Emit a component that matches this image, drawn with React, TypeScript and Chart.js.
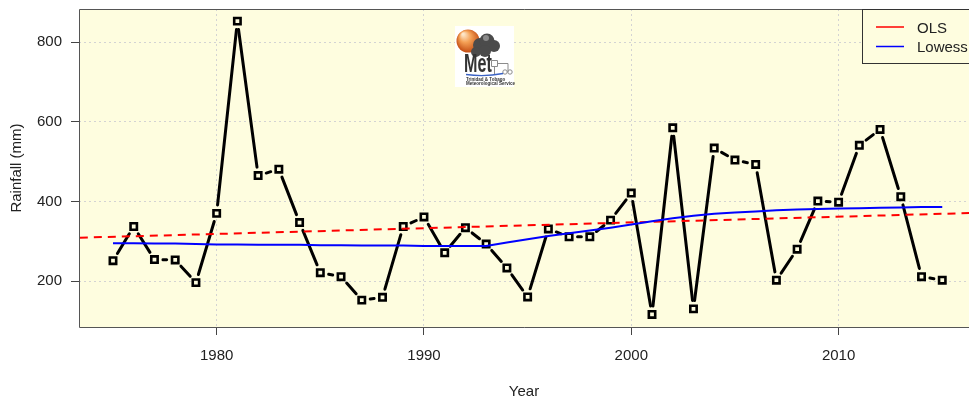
import React, { useEffect, useRef } from 'react';
import { Chart, registerables } from 'chart.js';

Chart.register(...registerables);

// ---- data ----
const years = [
  1975, 1976, 1977, 1978, 1979, 1980, 1981, 1982, 1983, 1984,
  1985, 1986, 1987, 1988, 1989, 1990, 1991, 1992, 1993, 1994,
  1995, 1996, 1997, 1998, 1999, 2000, 2001, 2002, 2003, 2004,
  2005, 2006, 2007, 2008, 2009, 2010, 2011, 2012, 2013, 2014, 2015,
];
const rainfall = [
  251, 337, 254, 253, 196, 370, 853, 465, 481, 347,
  221, 211, 152, 159, 337, 361, 271, 334, 293, 233,
  160, 331, 311, 311, 353, 421, 116, 585, 130, 534,
  504, 493, 202, 280, 401, 398, 541, 581, 412, 211, 202,
];
const lowessValues = [
  295, 295, 294, 294, 293, 292, 292, 291, 291, 291,
  290, 290, 289, 289, 289, 288, 288, 288, 288, 297,
  305, 313, 320, 327, 334, 342, 350, 358, 364, 369,
  372, 375, 378, 380, 381, 382, 383, 384, 385, 386, 386,
];
const olsYears = [1973.4, 2016.6];
const olsValues = [308.8, 371.2];

const xTickValues = [1980, 1990, 2000, 2010];
const yTickValues = [200, 400, 600, 800];
const xRange = [1973.36, 2016.29];
const yRange = [84.5, 883.5];

const xAxisTitle = 'Year';
const yAxisTitle = 'Rainfall (mm)';
const legendLabels = ['OLS', 'Lowess'];
const legendColors = ['#ff0000', '#0000ff'];
const logoWord = 'Met';
const logoLines = ['Trinidad & Tobago', 'Meteorological Service'];

const CREAM = '#fefddf';
const FONT = '"Liberation Sans", Arial, sans-serif';
const TEXT = '#222222';

const zeroPad = (scale: any) => {
  scale.paddingTop = 0;
  scale.paddingBottom = 0;
  scale.paddingLeft = 0;
  scale.paddingRight = 0;
};

const backgroundPlugin = {
  id: 'bgFrame',
  beforeDraw(chart: any) {
    const { ctx, chartArea } = chart;
    ctx.save();
    ctx.fillStyle = '#ffffff';
    ctx.fillRect(0, 0, chart.width, chart.height);
    ctx.fillStyle = CREAM;
    ctx.fillRect(chartArea.left, chartArea.top, chartArea.right - chartArea.left + 10, chartArea.bottom - chartArea.top);
    ctx.restore();
  },
  afterDatasetsDraw(chart: any) {
    const { ctx, chartArea } = chart;
    ctx.save();
    ctx.strokeStyle = '#555555';
    ctx.lineWidth = 1;
    const l = Math.round(chartArea.left) + 0.5;
    const t = Math.round(chartArea.top) + 0.5;
    const b = Math.round(chartArea.bottom) + 0.5;
    ctx.beginPath();
    ctx.moveTo(chartArea.right + 10, t);
    ctx.lineTo(l, t);
    ctx.lineTo(l, b);
    ctx.lineTo(chartArea.right + 10, b);
    ctx.stroke();
    ctx.restore();
  },
};

const gappedLinePlugin = {
  id: 'gappedLine',
  afterDatasetDraw(chart: any, args: any) {
    if (args.index !== 2) return;
    const pts = args.meta.data;
    const ctx = chart.ctx;
    const gap = 8.5;
    ctx.save();
    ctx.strokeStyle = '#000000';
    ctx.lineWidth = 3;
    ctx.lineCap = 'round';
    for (let i = 0; i < pts.length - 1; i++) {
      const a = pts[i];
      const b = pts[i + 1];
      const dx = b.x - a.x;
      const dy = b.y - a.y;
      const len = Math.hypot(dx, dy);
      if (len <= 2 * gap + 1) continue;
      const ux = dx / len;
      const uy = dy / len;
      ctx.beginPath();
      ctx.moveTo(a.x + ux * gap, a.y + uy * gap);
      ctx.lineTo(b.x - ux * gap, b.y - uy * gap);
      ctx.stroke();
    }
    ctx.restore();
  },
};

const decorPlugin = {
  id: 'decor',
  afterDraw(chart: any) {
    const { ctx } = chart;
    // ---- logo ----
    ctx.save();
    ctx.fillStyle = '#ffffff';
    ctx.fillRect(455, 26, 59, 61);
    // orange globe
    const g = ctx.createRadialGradient(463, 34, 1, 468, 40, 11.5);
    g.addColorStop(0, '#fde6c8');
    g.addColorStop(0.45, '#f4a055');
    g.addColorStop(1, '#c9561a');
    ctx.fillStyle = g;
    ctx.beginPath();
    ctx.arc(468, 41, 11.5, 0, Math.PI * 2);
    ctx.fill();
    // dark cloud
    ctx.fillStyle = '#4b4b4b';
    const blobs = [
      [480, 45, 7], [487, 41, 7.5], [494, 46, 6], [485, 51, 6], [476, 52, 5],
    ];
    for (const [bx, by, br] of blobs) {
      ctx.beginPath();
      ctx.arc(bx, by, br, 0, Math.PI * 2);
      ctx.fill();
    }
    ctx.fillStyle = '#8a8a8a';
    ctx.beginPath();
    ctx.arc(486, 38, 3, 0, Math.PI * 2);
    ctx.fill();
    // Met
    ctx.save();
    ctx.translate(464, 72);
    ctx.scale(0.62, 1);
    ctx.font = `bold 26px ${FONT}`;
    ctx.fillStyle = '#333333';
    ctx.textBaseline = 'alphabetic';
    ctx.textAlign = 'left';
    ctx.fillText(logoWord, 0, 0);
    ctx.restore();
    // instrument
    ctx.strokeStyle = '#8c8c8c';
    ctx.lineWidth = 1;
    ctx.beginPath();
    ctx.rect(491.5, 60.5, 6, 6);
    ctx.moveTo(494.5, 66.5);
    ctx.lineTo(494.5, 74);
    ctx.moveTo(497.5, 63.5);
    ctx.lineTo(508, 63.5);
    ctx.moveTo(508, 63.5);
    ctx.lineTo(508, 72);
    ctx.stroke();
    ctx.beginPath();
    ctx.arc(505, 72, 2.2, 0, Math.PI * 2);
    ctx.stroke();
    ctx.beginPath();
    ctx.arc(510, 72, 2.2, 0, Math.PI * 2);
    ctx.stroke();
    // swoosh
    ctx.strokeStyle = '#3a62c4';
    ctx.lineWidth = 1.3;
    ctx.beginPath();
    ctx.moveTo(466, 74.5);
    ctx.quadraticCurveTo(485, 77, 503, 73.5);
    ctx.stroke();
    // small text
    ctx.fillStyle = '#333333';
    ctx.font = `bold 4.5px ${FONT}`;
    ctx.textAlign = 'left';
    ctx.textBaseline = 'middle';
    ctx.fillText(logoLines[0], 466, 79.5);
    ctx.fillText(logoLines[1], 466, 84);
    ctx.restore();

    // ---- legend ----
    ctx.save();
    ctx.fillStyle = CREAM;
    ctx.fillRect(862.5, 9.5, 130, 54);
    ctx.strokeStyle = '#333333';
    ctx.lineWidth = 1;
    ctx.strokeRect(862.5, 9.5, 130, 54);
    const rows = [27, 46.5];
    ctx.font = `15px ${FONT}`;
    ctx.textAlign = 'left';
    ctx.textBaseline = 'middle';
    legendLabels.forEach((lab, i) => {
      ctx.strokeStyle = legendColors[i];
      ctx.lineWidth = 1.5;
      ctx.beginPath();
      ctx.moveTo(876, rows[i]);
      ctx.lineTo(904, rows[i]);
      ctx.stroke();
      ctx.fillStyle = TEXT;
      ctx.fillText(lab, 917, rows[i] + 1.5);
    });
    ctx.restore();
  },
};

export default function App() {
  const canvasRef = useRef<HTMLCanvasElement | null>(null);

  useEffect(() => {
    if (!canvasRef.current) return;
    const chart = new Chart(canvasRef.current, {
      type: 'line',
      data: {
        datasets: [
          {
            label: legendLabels[1],
            data: years.map((x, i) => ({ x, y: lowessValues[i] })),
            borderColor: legendColors[1],
            borderWidth: 2,
            pointRadius: 0,
            tension: 0,
            fill: false,
          },
          {
            label: legendLabels[0],
            data: olsYears.map((x, i) => ({ x, y: olsValues[i] })),
            borderColor: legendColors[0],
            borderWidth: 2,
            borderDash: [8, 6],
            pointRadius: 0,
            tension: 0,
            fill: false,
          },
          {
            label: 'Rainfall',
            data: years.map((x, i) => ({ x, y: rainfall[i] })),
            showLine: false,
            pointStyle: 'rect',
            pointRadius: 4.5,
            pointBorderWidth: 2.6,
            pointBorderColor: '#000000',
            pointBackgroundColor: CREAM,
          },
        ],
      },
      options: {
        animation: false,
        responsive: false,
        devicePixelRatio: 1,
        events: [],
        layout: { autoPadding: false, padding: { left: 0, top: 9, right: 0, bottom: 0 } },
        plugins: {
          legend: { display: false },
          tooltip: { enabled: false },
          title: { display: false },
        },
        scales: {
          x: {
            type: 'linear',
            min: xRange[0],
            max: xRange[1],
            afterBuildTicks: (scale: any) => {
              scale.ticks = xTickValues.map((v) => ({ value: v }));
            },
            afterFit: (scale: any) => {
              scale.height = 74;
              zeroPad(scale);
            },
            ticks: {
              callback: (v: any) => String(v),
              font: { family: FONT, size: 15 },
              color: TEXT,
              padding: 12,
              maxRotation: 0,
            },
            grid: {
              color: '#d3d3d3',
              lineWidth: 1,
              drawTicks: true,
              tickLength: 8,
              tickColor: '#444444',
              tickWidth: 1,
              tickBorderDash: [],
            },
            border: { display: false, dash: [2, 3] },
            title: {
              display: true,
              text: xAxisTitle,
              font: { family: FONT, size: 15 },
              color: TEXT,
              padding: { top: 0, bottom: 0 },
            },
          },
          y: {
            type: 'linear',
            min: yRange[0],
            max: yRange[1],
            afterBuildTicks: (scale: any) => {
              scale.ticks = yTickValues.map((v) => ({ value: v }));
            },
            afterFit: (scale: any) => {
              scale.width = 79;
              zeroPad(scale);
            },
            ticks: {
              callback: (v: any) => String(v),
              font: { family: FONT, size: 15 },
              color: TEXT,
              padding: 9,
            },
            grid: {
              color: '#d3d3d3',
              lineWidth: 1,
              drawTicks: true,
              tickLength: 8,
              tickColor: '#444444',
              tickWidth: 1,
              tickBorderDash: [],
            },
            border: { display: false, dash: [2, 3] },
            title: {
              display: true,
              text: yAxisTitle,
              font: { family: FONT, size: 15 },
              color: TEXT,
              padding: { top: 8, bottom: 0 },
            },
          },
        },
      },
      plugins: [backgroundPlugin, gappedLinePlugin, decorPlugin],
    } as any);
    return () => chart.destroy();
  }, []);

  return (
    <div style={{ position: 'fixed', left: 0, top: 0, width: 969, height: 401, background: '#fff' }}>
      <canvas ref={canvasRef} width={969} height={401} style={{ display: 'block' }} />
    </div>
  );
}
